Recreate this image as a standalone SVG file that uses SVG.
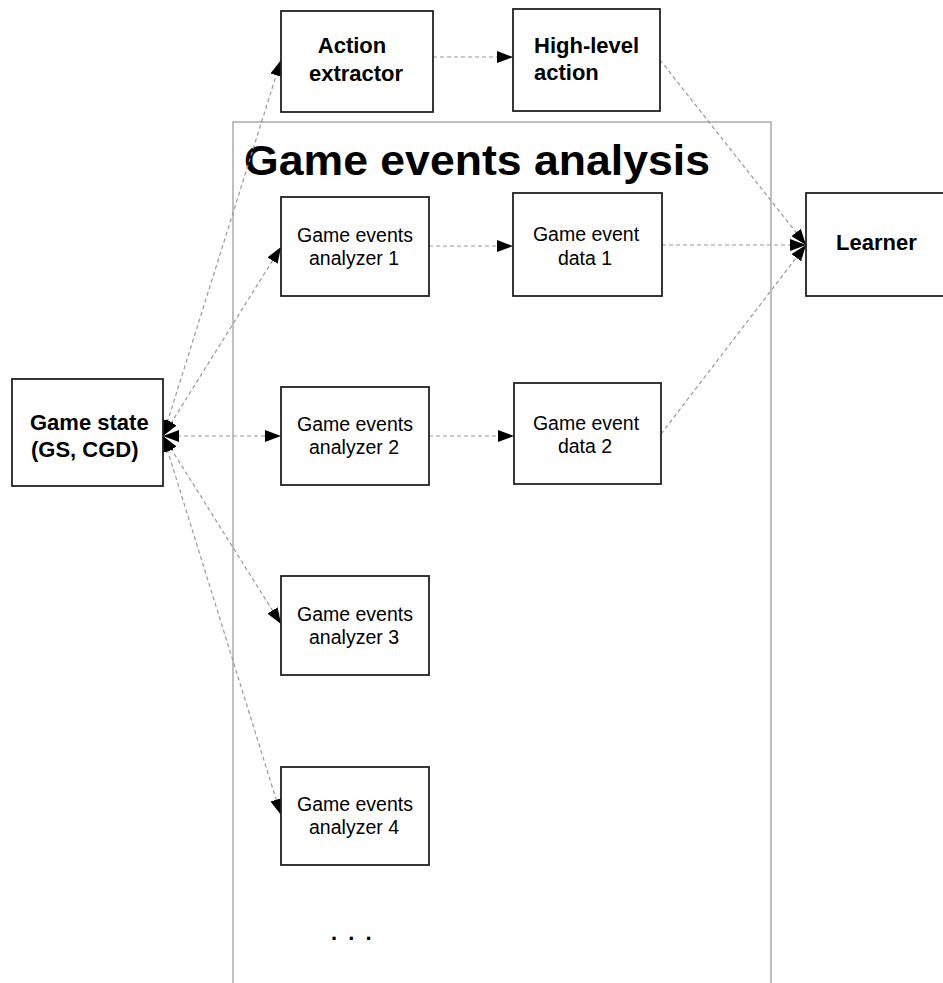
<svg xmlns="http://www.w3.org/2000/svg" width="943" height="983" viewBox="0 0 943 983">
<style>
.box{fill:#fff;stroke:#222;stroke-width:1.8}
.frame{fill:none;stroke:#aaa;stroke-width:1.5}
.con{fill:none;stroke:#999;stroke-width:1.2;stroke-dasharray:4 3}
.b{font-family:"Liberation Sans",Arial,sans-serif;font-weight:bold;font-size:22px;fill:#000}
.r{font-family:"Liberation Sans",Arial,sans-serif;font-size:19.5px;fill:#000;text-anchor:middle}
.title{font-family:"Liberation Sans",Arial,sans-serif;font-weight:bold;font-size:42px;fill:#000}
</style>
<defs>
<marker id="ah" viewBox="0 0 16 12" refX="16" refY="6" markerWidth="16" markerHeight="12" markerUnits="userSpaceOnUse" orient="auto-start-reverse">
<path d="M0,0 L16,6 L0,12 z" fill="#000"/>
</marker>
</defs>
<rect width="943" height="983" fill="#fff"/>
<g id="group-frame">
<rect class="frame" x="233" y="122" width="538" height="880"/>
<text class="title" x="244" y="175" textLength="466" lengthAdjust="spacingAndGlyphs">Game events analysis</text>
</g>
<g id="connectors">
<line class="con" x1="163" y1="436" x2="281" y2="60" marker-start="url(#ah)" marker-end="url(#ah)"/>
<line class="con" x1="163" y1="436" x2="281" y2="247" marker-start="url(#ah)" marker-end="url(#ah)"/>
<line class="con" x1="163" y1="436" x2="281" y2="436" marker-start="url(#ah)" marker-end="url(#ah)"/>
<line class="con" x1="163" y1="436" x2="281" y2="624" marker-start="url(#ah)" marker-end="url(#ah)"/>
<line class="con" x1="163" y1="436" x2="281" y2="815" marker-start="url(#ah)" marker-end="url(#ah)"/>
<line class="con" x1="433" y1="57" x2="513" y2="57" marker-end="url(#ah)"/>
<line class="con" x1="429" y1="246" x2="513" y2="246" marker-end="url(#ah)"/>
<line class="con" x1="429" y1="436" x2="514" y2="436" marker-end="url(#ah)"/>
<line class="con" x1="660" y1="60" x2="806" y2="245" marker-end="url(#ah)"/>
<line class="con" x1="662" y1="245" x2="806" y2="245" marker-end="url(#ah)"/>
<line class="con" x1="661" y1="434" x2="806" y2="245" marker-end="url(#ah)"/>
</g>
<g id="game-state">
<rect class="box" x="12" y="379" width="151" height="107"/>
<text class="b" x="30" y="430">Game state</text>
<text class="b" x="31" y="457">(GS, CGD)</text>
</g>
<g id="action-extractor">
<rect class="box" x="281" y="11" width="152" height="101"/>
<text class="b" x="352" y="53" text-anchor="middle">Action</text>
<text class="b" x="356" y="81" text-anchor="middle">extractor</text>
</g>
<g id="high-level-action">
<rect class="box" x="513" y="9" width="147" height="102"/>
<text class="b" x="534" y="53">High-level</text>
<text class="b" x="534" y="80">action</text>
</g>
<g id="learner">
<rect class="box" x="806" y="193" width="140" height="103"/>
<text class="b" x="836" y="250">Learner</text>
</g>
<g id="analyzer-1">
<rect class="box" x="281" y="197" width="148" height="99"/>
<text class="r" x="355" y="242">Game events</text>
<text class="r" x="354" y="265">analyzer 1</text>
</g>
<g id="event-data-1">
<rect class="box" x="513" y="193" width="149" height="103"/>
<text class="r" x="586" y="241">Game event</text>
<text class="r" x="585" y="265">data 1</text>
</g>
<g id="analyzer-2">
<rect class="box" x="281" y="387" width="148" height="98"/>
<text class="r" x="355" y="431">Game events</text>
<text class="r" x="354" y="454">analyzer 2</text>
</g>
<g id="event-data-2">
<rect class="box" x="514" y="383" width="147" height="101"/>
<text class="r" x="586" y="430">Game event</text>
<text class="r" x="585" y="453">data 2</text>
</g>
<g id="analyzer-3">
<rect class="box" x="281" y="576" width="148" height="99"/>
<text class="r" x="355" y="621">Game events</text>
<text class="r" x="354" y="644">analyzer 3</text>
</g>
<g id="analyzer-4">
<rect class="box" x="281" y="767" width="148" height="98"/>
<text class="r" x="355" y="811">Game events</text>
<text class="r" x="354" y="834">analyzer 4</text>
</g>
<g id="ellipsis">
<text class="b" x="331" y="940" style="word-spacing:5px">. . .</text>
</g>
</svg>
